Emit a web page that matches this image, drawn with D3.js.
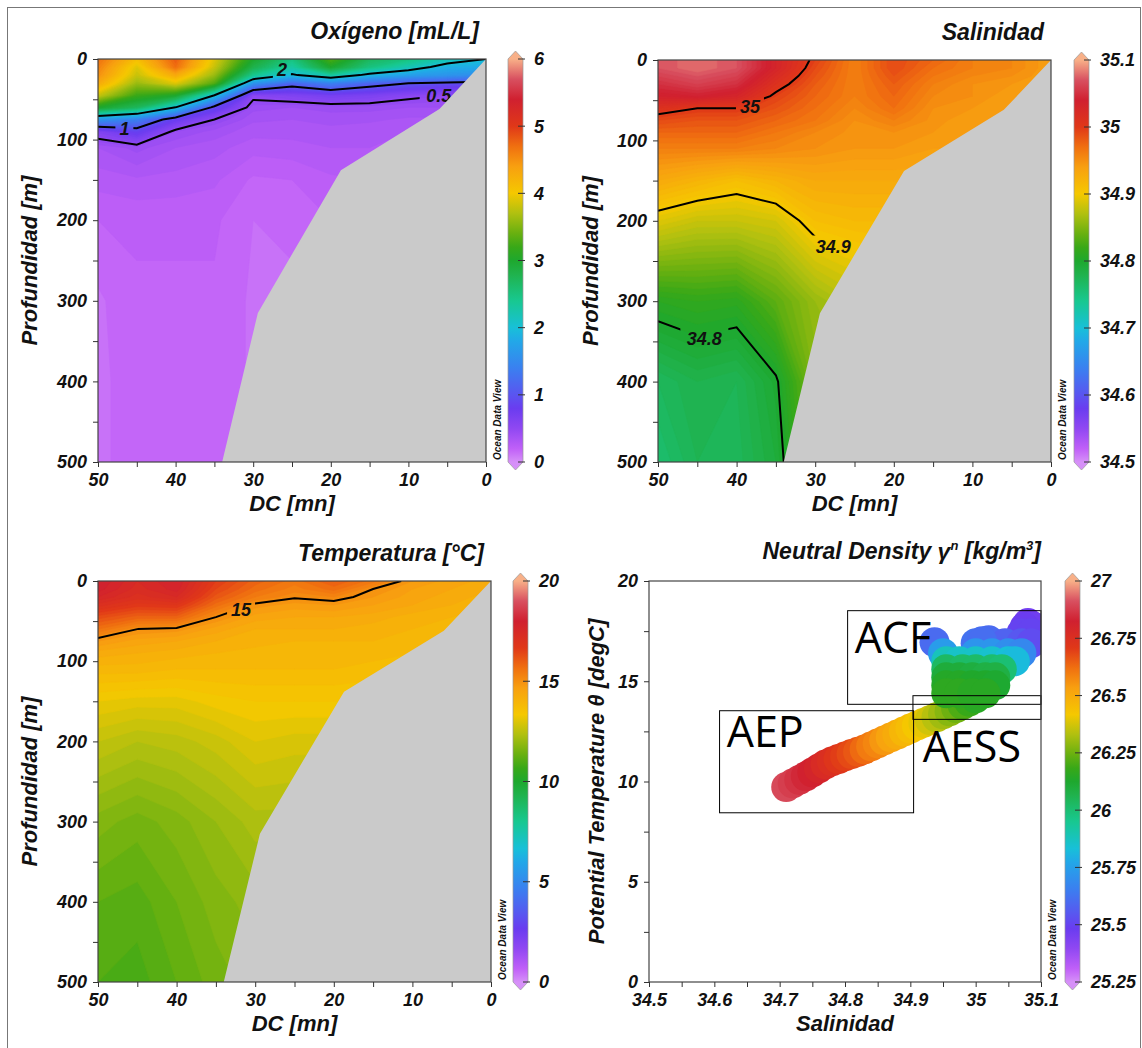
<!DOCTYPE html>
<html lang="es">
<head>
<meta charset="utf-8">
<title>Secciones ODV</title>
<script src="https://cdn.jsdelivr.net/npm/d3@7"></script>
<style>
  body { margin: 0; background: #fff; }
  svg text { font-family: "Liberation Sans", Arial, sans-serif; font-weight: bold; font-style: italic; fill: #111; }
  svg text.box-label { font-family: "Open Sans", sans-serif; font-weight: normal; font-style: normal; fill: #000; }
</style>
</head>
<body>
<svg id="fig" width="1142" height="1048"></svg>
<script>
// grid of the sections: distance to coast (nm) and depth (m)
var dist = [50, 45, 40, 35, 30, 25, 20, 15, 10, 5, 0];
var depth = [0, 10, 20, 30, 45, 60, 75, 90, 110, 150, 200, 300, 400, 500];

// oxygen mL/L, one row per depth, columns follow dist
var oxygen = [
  [4.7, 4.1, 4.8, 3.9, 3.0, 2.5, 3.3, 2.7, 2.5, 2.2, 2.0],
  [4.6, 3.9, 4.7, 3.8, 2.8, 2.3, 3.0, 2.5, 2.2, 1.85, 1.8],
  [4.5, 3.8, 4.3, 3.6, 2.4, 1.95, 2.3, 1.9, 1.7, 1.6, 1.5],
  [4.3, 3.6, 3.9, 3.3, 1.6, 1.15, 1.4, 1.15, 1.0, 0.95, 0.9],
  [3.8, 3.2, 3.0, 2.0, 0.55, 0.62, 0.7, 0.65, 0.55, 0.5, 0.5],
  [3.0, 2.7, 2.0, 0.9, 0.42, 0.4, 0.42, 0.42, 0.4, 0.4, 0.4],
  [1.6, 1.4, 0.8, 0.5, 0.36, 0.35, 0.37, 0.36, 0.34, 0.34, 0.34],
  [0.62, 0.85, 0.45, 0.38, 0.32, 0.32, 0.33, 0.32, 0.3, 0.3, 0.3],
  [0.35, 0.42, 0.35, 0.32, 0.27, 0.28, 0.3, 0.3, 0.28, 0.28, 0.28],
  [0.27, 0.29, 0.28, 0.26, 0.19, 0.2, 0.24, 0.25, 0.25, 0.25, 0.25],
  [0.2, 0.21, 0.21, 0.21, 0.15, 0.16, 0.2, 0.2, 0.2, 0.2, 0.2],
  [0.14, 0.19, 0.19, 0.19, 0.14, 0.14, 0.15, 0.15, 0.15, 0.15, 0.15],
  [0.13, 0.19, 0.19, 0.19, 0.14, 0.13, 0.13, 0.13, 0.13, 0.13, 0.13],
  [0.13, 0.19, 0.19, 0.19, 0.14, 0.12, 0.12, 0.12, 0.12, 0.12, 0.12]
];

var salinity = [
  [35.07, 35.08, 35.07, 35.03, 34.995, 34.96, 34.99, 34.975, 34.96, 34.955, 34.94],
  [35.07, 35.08, 35.07, 35.03, 34.99, 34.96, 34.99, 34.97, 34.96, 34.955, 34.94],
  [35.06, 35.07, 35.06, 35.02, 34.985, 34.96, 34.985, 34.965, 34.955, 34.95, 34.94],
  [35.05, 35.06, 35.05, 35.01, 34.98, 34.96, 34.98, 34.96, 34.95, 34.945, 34.94],
  [35.035, 35.04, 35.03, 34.995, 34.975, 34.96, 34.975, 34.955, 34.95, 34.94, 34.94],
  [35.01, 35.0, 35.0, 34.985, 34.97, 34.955, 34.97, 34.95, 34.945, 34.94, 34.94],
  [34.99, 34.985, 34.985, 34.975, 34.965, 34.95, 34.96, 34.948, 34.94, 34.94, 34.94],
  [34.975, 34.975, 34.975, 34.965, 34.955, 34.948, 34.95, 34.945, 34.94, 34.94, 34.94],
  [34.96, 34.96, 34.96, 34.955, 34.95, 34.945, 34.945, 34.94, 34.94, 34.94, 34.94],
  [34.93, 34.92, 34.91, 34.92, 34.93, 34.93, 34.93, 34.93, 34.93, 34.93, 34.93],
  [34.89, 34.88, 34.88, 34.885, 34.91, 34.915, 34.915, 34.915, 34.915, 34.915, 34.915],
  [34.81, 34.815, 34.812, 34.835, 34.86, 34.875, 34.89, 34.89, 34.89, 34.89, 34.89],
  [34.77, 34.78, 34.775, 34.797, 34.85, 34.86, 34.87, 34.87, 34.87, 34.87, 34.87],
  [34.76, 34.775, 34.772, 34.79, 34.84, 34.85, 34.86, 34.86, 34.86, 34.86, 34.86]
];

var temperature = [
  [18.0, 17.4, 17.8, 16.6, 15.9, 15.5, 16.0, 15.5, 14.8, 14.5, 14.3],
  [17.9, 17.3, 17.7, 16.4, 15.7, 15.3, 15.7, 15.0, 14.6, 14.4, 14.2],
  [17.6, 17.1, 17.4, 16.1, 15.4, 15.05, 15.2, 14.8, 14.5, 14.3, 14.1],
  [17.1, 16.7, 16.8, 15.7, 14.9, 14.7, 14.8, 14.6, 14.4, 14.2, 14.0],
  [16.3, 15.9, 15.9, 15.0, 14.5, 14.4, 14.4, 14.3, 14.1, 14.0, 13.9],
  [15.6, 15.0, 14.9, 14.5, 14.2, 14.2, 14.2, 14.1, 14.0, 13.9, 13.9],
  [14.8, 14.5, 14.4, 14.2, 14.1, 14.0, 14.0, 14.0, 13.9, 13.9, 13.8],
  [14.3, 14.2, 14.1, 14.0, 13.9, 13.9, 13.9, 13.9, 13.8, 13.8, 13.8],
  [13.9, 13.9, 13.8, 13.8, 13.8, 13.8, 13.8, 13.7, 13.7, 13.7, 13.7],
  [13.2, 13.1, 13.1, 13.3, 13.4, 13.4, 13.4, 13.4, 13.4, 13.4, 13.4],
  [12.6, 12.4, 12.5, 12.7, 13.0, 12.9, 12.9, 12.9, 12.9, 12.9, 12.9],
  [11.7, 11.5, 11.7, 12.0, 12.3, 12.3, 12.3, 12.3, 12.3, 12.3, 12.3],
  [11.2, 11.1, 11.4, 11.7, 11.9, 11.9, 11.9, 11.9, 11.9, 11.9, 11.9],
  [11.0, 10.9, 11.2, 11.5, 11.7, 11.7, 11.7, 11.7, 11.7, 11.7, 11.7]
];

// sea floor along the section
var bottomDC = [0, 6, 18.7, 29.4, 34, 0];
var bottomZ = [0, 62, 138, 315, 500, 500];

// T-S samples: salinity, potential temperature, neutral density
var tsSal = [
  34.71, 34.72, 34.73, 34.74, 34.75, 34.76, 34.77, 34.78, 34.79, 34.80,
  34.81, 34.82, 34.83, 34.84, 34.85, 34.86, 34.87, 34.88, 34.89, 34.90,
  34.91, 34.92, 34.93, 34.94, 34.95, 34.96, 34.97, 34.98, 34.99, 35.0,
  35.08, 35.09, 35.075, 35.07, 35.085,
  34.937, 35.0, 35.02, 35.045, 35.07, 35.085, 35.01,
  34.95, 35.0, 35.025, 35.05, 35.07,
  34.955, 34.975, 35.0, 35.025, 35.05, 35.06,
  34.955, 34.98, 35.0, 35.025, 35.04,
  34.955, 34.975, 34.995, 35.015, 35.03,
  34.955, 34.975, 34.995, 35.015, 35.03,
  34.955, 34.975, 34.995, 35.015];
var tsTheta = [
  9.72, 9.9, 10.08, 10.26, 10.45, 10.65, 10.85, 11.0, 11.12, 11.25,
  11.37, 11.48, 11.6, 11.75, 11.9, 12.05, 12.2, 12.34, 12.49, 12.64,
  12.78, 12.92, 13.06, 13.2, 13.35, 13.5, 13.66, 13.82, 13.98, 14.15,
  17.9, 17.7, 17.7, 17.4, 17.4,
  16.95, 16.9, 17.05, 16.9, 16.9, 16.9, 17.0,
  16.4, 16.4, 16.4, 16.4, 16.4,
  16.0, 16.0, 16.0, 16.0, 16.0, 16.0,
  15.6, 15.6, 15.6, 15.6, 15.6,
  15.2, 15.2, 15.2, 15.2, 15.2,
  14.8, 14.8, 14.8, 14.8, 14.8,
  14.4, 14.4, 14.4, 14.4];
var tsGamma = [
  26.9, 26.88, 26.86, 26.84, 26.82, 26.8, 26.77, 26.75, 26.72, 26.7,
  26.68, 26.66, 26.63, 26.6, 26.58, 26.55, 26.52, 26.5, 26.47, 26.45,
  26.42, 26.4, 26.37, 26.34, 26.31, 26.28, 26.25, 26.21, 26.18, 26.15,
  25.46, 25.47, 25.48, 25.5, 25.5,
  25.6, 25.62, 25.6, 25.58, 25.55, 25.52, 25.61,
  25.74, 25.72, 25.72, 25.7, 25.68,
  25.88, 25.86, 25.86, 25.85, 25.83, 25.82,
  26.03, 26.02, 26.02, 26.01, 26.0,
  26.1, 26.1, 26.09, 26.08, 26.08,
  26.14, 26.14, 26.13, 26.13, 26.12,
  26.16, 26.16, 26.15, 26.15];

// water mass boxes: [Smin, Smax, Tmin, Tmax], label anchor [S, T]
var massNames = ["ACF", "AESS", "AEP"];
var massBox = [[34.804, 35.1, 13.85, 18.52], [34.904, 35.1, 13.1, 14.28], [34.608, 34.905, 8.44, 13.53]];
var massLabel = [[34.815, 16.41], [34.919, 10.99], [34.619, 11.74]];

// ODV style palette (fraction of range, colour)
var palette = [[0, "#d690f8"], [0.033, "#c060f8"], [0.083, "#9048f2"], [0.133, "#6a3cf0"], [0.167, "#5a55f0"],
  [0.233, "#3a80f0"], [0.3, "#22a8e8"], [0.333, "#18c0d8"], [0.4, "#18c890"], [0.467, "#20b24c"], [0.5, "#1ea82e"],
  [0.533, "#38a818"], [0.567, "#68b010"], [0.617, "#b0c010"], [0.667, "#f5c800"], [0.733, "#f8a010"], [0.783, "#f07010"],
  [0.833, "#e03818"], [0.9, "#d02030"], [0.95, "#d85060"], [1, "#f8b088"]];

var svg = d3.select("#fig");

svg.append("rect").attr("x", 7.5).attr("y", 7.5).attr("width", 1133).attr("height", 1060)
  .attr("fill", "none").attr("stroke", "#777").attr("stroke-width", 1);

function colormap(lo, hi) {
  return d3.scaleLinear()
    .domain(palette.map(function(s) { return lo + s[0] * (hi - lo); }))
    .range(palette.map(function(s) { return s[1]; }))
    .clamp(true);
}

// position along a non-uniform grid
function along(arr, t) {
  if (t <= 0) return arr[0];
  if (t >= arr.length - 1) return arr[arr.length - 1];
  var i = Math.floor(t), f = t - i;
  return arr[i] + (arr[i + 1] - arr[i]) * f;
}

function colorbar(p) {
  var id = "grad" + p.id;
  var grad = svg.append("defs").append("linearGradient").attr("id", id)
    .attr("x1", 0).attr("y1", 1).attr("x2", 0).attr("y2", 0);
  palette.forEach(function(s) {
    grad.append("stop").attr("offset", s[0]).attr("stop-color", s[1]);
  });
  var x0 = p.cbX, w = 15;
  var cy = d3.scaleLinear().domain([p.lo, p.hi]).range([p.bottom, p.top]);
  var g = svg.append("g");
  g.append("path")
    .attr("d", "M" + x0 + "," + p.top + "L" + (x0 + w / 2) + "," + (p.top - 8) + "L" + (x0 + w) + "," + p.top + "Z")
    .attr("fill", palette[palette.length - 1][1]);
  g.append("path")
    .attr("d", "M" + x0 + "," + p.bottom + "L" + (x0 + w / 2) + "," + (p.bottom + 8) + "L" + (x0 + w) + "," + p.bottom + "Z")
    .attr("fill", palette[0][1]);
  g.append("rect").attr("x", x0).attr("y", p.top).attr("width", w).attr("height", p.bottom - p.top)
    .attr("fill", "url(#" + id + ")");
  g.append("path")
    .attr("d", "M" + x0 + "," + p.top + "L" + (x0 + w / 2) + "," + (p.top - 8) + "L" + (x0 + w) + "," + p.top +
      "V" + p.bottom + "L" + (x0 + w / 2) + "," + (p.bottom + 8) + "L" + x0 + "," + p.bottom + "Z")
    .attr("fill", "none").attr("stroke", "#999").attr("stroke-width", 0.7);
  g.selectAll("line.cbt").data(p.cbTicks).join("line")
    .attr("x1", x0 + 10).attr("x2", x0 + 17)
    .attr("y1", function(d) { return cy(d); }).attr("y2", function(d) { return cy(d); })
    .attr("stroke", "#333").attr("stroke-width", 1);
  g.selectAll("text.cbl").data(p.cbTicks).join("text")
    .attr("x", x0 + 26).attr("y", function(d) { return cy(d); }).attr("dy", "0.36em")
    .attr("font-size", 18).text(function(d) { return String(d); });
}

function panelText(p, xTitle, yTitle, yTitleX) {
  if (p.title) {
    svg.append("text").attr("x", p.right - 7).attr("y", p.top - 20).attr("text-anchor", "end")
      .attr("font-size", 23).text(p.title);
  }
  svg.append("text").attr("x", (p.left + p.right) / 2).attr("y", p.bottom + 49).attr("text-anchor", "middle")
    .attr("font-size", 22).text(xTitle);
  svg.append("text").attr("transform", "translate(" + yTitleX + "," + ((p.top + p.bottom) / 2) + ") rotate(-90)")
    .attr("text-anchor", "middle").attr("font-size", 22).text(yTitle);
  svg.append("text").attr("transform", "translate(" + (p.right + 15) + "," + (p.bottom - 2) + ") rotate(-90)")
    .attr("font-size", 10).text("Ocean Data View");
}

function styleAxis(g) {
  g.select(".domain").remove();
  g.selectAll(".tick line").attr("stroke", "#333");
  g.attr("font-size", 18).attr("font-family", null);
}

function drawSection(p) {
  var n = dist.length, m = depth.length;
  var x = d3.scaleLinear().domain([50, 0]).range([p.left, p.right]);
  var y = d3.scaleLinear().domain([0, 500]).range([p.top, p.bottom]);
  var color = colormap(p.lo, p.hi);
  var flat = [].concat.apply([], p.values);
  function px(gx) { return x(along(dist, gx - 0.5)); }
  function py(gy) { return y(along(depth, gy - 0.5)); }
  var path = d3.geoPath(d3.geoTransform({ point: function(gx, gy) { this.stream.point(px(gx), py(gy)); } }));

  var clipId = "clip" + p.id;
  svg.append("clipPath").attr("id", clipId).append("rect")
    .attr("x", p.left).attr("y", p.top).attr("width", p.right - p.left).attr("height", p.bottom - p.top);
  var field = svg.append("g").attr("clip-path", "url(#" + clipId + ")");

  var bands = d3.contours().size([n, m]).thresholds(d3.range(p.lo, p.hi, p.step))(flat);
  field.selectAll("path.band").data(bands).join("path")
    .attr("d", path)
    .attr("fill", function(d) { return color(d.value + p.step / 2); })
    .attr("stroke", function(d) { return color(d.value + p.step / 2); })
    .attr("stroke-width", 0.6);

  // isolines without the stretches that run along the plot border
  function onBorder(a, b) {
    var ax = px(a[0]), bx = px(b[0]), ay = py(a[1]), by = py(b[1]);
    return (Math.abs(ax - p.left) < 0.01 && Math.abs(bx - p.left) < 0.01) ||
           (Math.abs(ax - p.right) < 0.01 && Math.abs(bx - p.right) < 0.01) ||
           (Math.abs(ay - p.top) < 0.01 && Math.abs(by - p.top) < 0.01) ||
           (Math.abs(ay - p.bottom) < 0.01 && Math.abs(by - p.bottom) < 0.01);
  }
  function openLines(c) {
    var lines = [];
    c.coordinates.forEach(function(poly) {
      poly.forEach(function(ring) {
        var cur = [];
        for (var k = 1; k < ring.length; k++) {
          var a = ring[k - 1], b = ring[k];
          if (onBorder(a, b)) { if (cur.length > 1) lines.push(cur); cur = []; }
          else { if (!cur.length) cur.push(a); cur.push(b); }
        }
        if (cur.length > 1) lines.push(cur);
      });
    });
    return { type: "MultiLineString", coordinates: lines };
  }

  var maskId = "mask" + p.id;
  var mask = svg.append("mask").attr("id", maskId).attr("maskUnits", "userSpaceOnUse")
    .attr("x", 0).attr("y", 0).attr("width", 1142).attr("height", 1048);
  mask.append("rect").attr("width", 1142).attr("height", 1048).attr("fill", "#fff");
  p.labels.forEach(function(l) {
    var w = l[0].length * 10 + 8;
    mask.append("rect").attr("x", x(l[1]) - w / 2).attr("y", y(l[2]) - 11)
      .attr("width", w).attr("height", 22).attr("fill", "#000");
  });

  var iso = d3.contours().size([n, m]).thresholds(p.levels)(flat);
  field.append("g").attr("mask", "url(#" + maskId + ")")
    .selectAll("path").data(iso).join("path")
    .attr("d", function(d) { return path(openLines(d)); })
    .attr("fill", "none").attr("stroke", "#000").attr("stroke-width", 2);

  field.selectAll("text.clab").data(p.labels).join("text")
    .attr("x", function(d) { return x(d[1]); }).attr("y", function(d) { return y(d[2]); })
    .attr("dy", "0.36em").attr("text-anchor", "middle").attr("font-size", 18)
    .text(function(d) { return d[0]; });

  field.append("path")
    .datum(d3.zip(bottomDC, bottomZ))
    .attr("d", d3.line().x(function(d) { return x(d[0]); }).y(function(d) { return y(d[1]); }))
    .attr("fill", "#cacaca");

  svg.append("rect").attr("x", p.left).attr("y", p.top).attr("width", p.right - p.left).attr("height", p.bottom - p.top)
    .attr("fill", "none").attr("stroke", "#444").attr("stroke-width", 1.2);

  var xa = svg.append("g").attr("transform", "translate(0," + p.bottom + ")")
    .call(d3.axisBottom(x).tickValues(d3.range(0, 51, 5)).tickSize(5).tickPadding(6)
      .tickFormat(function(d) { return d % 10 === 0 ? d : ""; }));
  styleAxis(xa);
  var ya = svg.append("g").attr("transform", "translate(" + p.left + ",0)")
    .call(d3.axisLeft(y).tickValues(d3.range(0, 501, 50)).tickSize(5).tickPadding(6)
      .tickFormat(function(d) { return d % 100 === 0 ? d : ""; }));
  styleAxis(ya);

  panelText(p, "DC [mn]", "Profundidad [m]", p.yTitleX);
  colorbar(p);
}

drawSection({ id: "o2", left: 98, right: 486, top: 59, bottom: 462, values: oxygen, lo: 0, hi: 6, step: 0.05,
  levels: [0.5, 1, 2], labels: [["2", 26.3, 13], ["1", 46.6, 86], ["0.5", 6.1, 45]],
  title: "Oxígeno [mL/L]", cbX: 508, cbTicks: [0, 1, 2, 3, 4, 5, 6], yTitleX: 37 });

drawSection({ id: "sal", left: 658, right: 1051, top: 60, bottom: 462, values: salinity, lo: 34.5, hi: 35.1, step: 0.005,
  levels: [34.8, 34.9, 35], labels: [["35", 38.3, 58], ["34.9", 27.7, 232], ["34.8", 44.1, 346]],
  title: "Salinidad", cbX: 1074, cbTicks: [34.5, 34.6, 34.7, 34.8, 34.9, 35, 35.1], yTitleX: 598 });

drawSection({ id: "temp", left: 98, right: 491, top: 581, bottom: 982, values: temperature, lo: 0, hi: 20, step: 0.2,
  levels: [15], labels: [["15", 31.8, 36]],
  title: "Temperatura [°C]", cbX: 513, cbTicks: [0, 5, 10, 15, 20], yTitleX: 37 });

// T-S diagram coloured by neutral density
(function() {
  var p = { id: "gam", left: 649, right: 1041, top: 581, bottom: 982, lo: 25.25, hi: 27, cbX: 1065,
    cbTicks: [25.25, 25.5, 25.75, 26, 26.25, 26.5, 26.75, 27] };
  var x = d3.scaleLinear().domain([34.5, 35.1]).range([p.left, p.right]);
  var y = d3.scaleLinear().domain([0, 20]).range([p.bottom, p.top]);
  var color = colormap(p.lo, p.hi);

  svg.append("clipPath").attr("id", "clipgam").append("rect")
    .attr("x", p.left).attr("y", p.top).attr("width", p.right - p.left).attr("height", p.bottom - p.top);
  var plot = svg.append("g").attr("clip-path", "url(#clipgam)");
  plot.selectAll("circle").data(d3.range(tsSal.length)).join("circle")
    .attr("cx", function(i) { return x(tsSal[i]); })
    .attr("cy", function(i) { return y(tsTheta[i]); })
    .attr("r", 15)
    .attr("fill", function(i) { return color(tsGamma[i]); });

  svg.selectAll("rect.mass").data(massBox).join("rect")
    .attr("x", function(d) { return x(d[0]); }).attr("y", function(d) { return y(d[3]); })
    .attr("width", function(d) { return x(d[1]) - x(d[0]); })
    .attr("height", function(d) { return y(d[2]) - y(d[3]); })
    .attr("fill", "none").attr("stroke", "#000").attr("stroke-width", 1);
  svg.selectAll("text.box-label").data(massNames).join("text").attr("class", "box-label")
    .attr("x", function(d, i) { return x(massLabel[i][0]); })
    .attr("y", function(d, i) { return y(massLabel[i][1]); })
    .attr("font-size", 43).text(function(d) { return d; });

  svg.append("rect").attr("x", p.left).attr("y", p.top).attr("width", p.right - p.left).attr("height", p.bottom - p.top)
    .attr("fill", "none").attr("stroke", "#444").attr("stroke-width", 1.2);

  var salLabels = ["34.5", "34.6", "34.7", "34.8", "34.9", "35", "35.1"];
  var xa = svg.append("g").attr("transform", "translate(0," + p.bottom + ")")
    .call(d3.axisBottom(x).tickValues(d3.range(13).map(function(i) { return 34.5 + i * 0.05; }))
      .tickSize(5).tickPadding(6)
      .tickFormat(function(d, i) { return i % 2 ? "" : salLabels[i / 2]; }));
  styleAxis(xa);
  var ya = svg.append("g").attr("transform", "translate(" + p.left + ",0)")
    .call(d3.axisLeft(y).tickValues(d3.range(0, 20.1, 2.5)).tickSize(5).tickPadding(6)
      .tickFormat(function(d, i) { return i % 2 ? "" : d; }));
  styleAxis(ya);

  var t = svg.append("text").attr("x", p.right).attr("y", p.top - 22).attr("text-anchor", "end").attr("font-size", 23);
  t.append("tspan").text("Neutral Density γ");
  t.append("tspan").attr("dy", -9).attr("font-size", 13).text("n");
  t.append("tspan").attr("dy", 9).text(" [kg/m");
  t.append("tspan").attr("dy", -9).attr("font-size", 13).text("3");
  t.append("tspan").attr("dy", 9).text("]");
  panelText(p, "Salinidad", "Potential Temperature θ [degC]", 604);
  colorbar(p);
})();
</script>
</body>
</html>
